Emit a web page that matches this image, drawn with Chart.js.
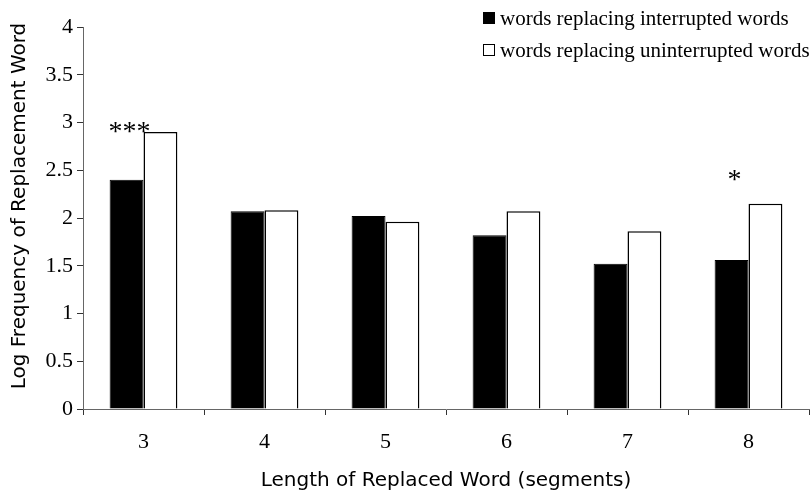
<!DOCTYPE html>
<html>
<head>
<meta charset="utf-8">
<script src="https://cdn.jsdelivr.net/npm/chart.js@4.4.1/dist/chart.umd.min.js"></script>
<style>
  html, body { margin: 0; padding: 0; background: #fff; }
  #wrap { width: 812px; height: 495px; position: relative; }
</style>
</head>
<body>
<div id="wrap"><canvas id="chart"></canvas></div>
<script>
const categories = ['3', '4', '5', '6', '7', '8'];
const interrupted = [2.40, 2.07, 2.02, 1.82, 1.52, 1.56];
const uninterrupted = [2.90, 2.08, 1.96, 2.07, 1.86, 2.15];
const seriesNames = ['words replacing interrupted words', 'words replacing uninterrupted words'];
const yTicks = [0, 0.5, 1, 1.5, 2, 2.5, 3, 3.5, 4];
const yTitle = 'Log Frequency of Replacement Word';
// significance marks: category, text, y value
const sigMarks = [
    { cat: '3', text: '***', y: 2.97 },
    { cat: '8', text: '*', y: 2.46 },
];

const serif = "'Liberation Serif', 'Times New Roman', serif";
const sans = "'DejaVu Sans', sans-serif";

const extras = {
    id: 'extras',
    afterDraw(chart) {
        const ctx = chart.ctx;
        const y = chart.scales.y;
        const meta = chart.getDatasetMeta(0);
        ctx.save();

        // asterisks above bars
        ctx.fillStyle = '#000';
        ctx.font = `28px ${serif}`;
        ctx.textAlign = 'center';
        ctx.textBaseline = 'middle';
        sigMarks.forEach((m) => {
            const i = categories.indexOf(m.cat);
            const bar = meta.data[i];
            ctx.fillText(m.text, bar.x + 3, y.getPixelForValue(m.y) + 7);
        });

        // y axis title (sits a bit above the plot centre in the original)
        ctx.save();
        ctx.translate(20, (chart.chartArea.top + chart.chartArea.bottom) / 2 - 12);
        ctx.rotate(-Math.PI / 2);
        ctx.font = `20px ${sans}`;
        ctx.textAlign = 'center';
        ctx.textBaseline = 'middle';
        ctx.fillText(yTitle, 0, 0);
        ctx.restore();

        // legend at top right
        ctx.font = `21px ${serif}`;
        ctx.textAlign = 'left';
        ctx.textBaseline = 'alphabetic';
        const fills = ['#000', '#fff'];
        seriesNames.forEach((name, i) => {
            const top = 12 + i * 32;
            ctx.fillStyle = fills[i];
            ctx.fillRect(483, top, 12, 12);
            ctx.strokeStyle = '#000';
            ctx.lineWidth = 1;
            ctx.strokeRect(483.5, top + 0.5, 11, 11);
            ctx.fillStyle = '#000';
            ctx.fillText(name, 500, top + 13);
        });
        ctx.restore();
    },
};

new Chart(document.getElementById('chart'), {
    type: 'bar',
    data: {
        labels: categories,
        datasets: [
            {
                label: seriesNames[0],
                data: interrupted,
                backgroundColor: '#000',
                borderColor: '#000',
                borderWidth: 1,
            },
            {
                label: seriesNames[1],
                data: uninterrupted,
                backgroundColor: '#fff',
                borderColor: '#000',
                borderWidth: 1.5,
            },
        ],
    },
    options: {
        responsive: true,
        maintainAspectRatio: false,
        animation: false,
        devicePixelRatio: 1,
        layout: { padding: { top: 27, right: 3, left: 0, bottom: 0 } },
        datasets: { bar: { categoryPercentage: 0.56, barPercentage: 1 } },
        plugins: {
            legend: { display: false },
            tooltip: { enabled: false },
        },
        scales: {
            x: {
                afterFit: (s) => { s.height = 86; },
                grid: {
                    display: true,
                    drawOnChartArea: false,
                    drawTicks: true,
                    tickLength: 6,
                    color: '#333',
                    offset: true,
                },
                border: { display: true, color: '#666', width: 1 },
                ticks: {
                    color: '#000',
                    font: { family: serif, size: 22 },
                    padding: 14,
                },
                title: {
                    display: true,
                    text: 'Length of Replaced Word (segments)',
                    color: '#000',
                    font: { family: sans, size: 20 },
                    padding: { top: 0, bottom: 2 },
                },
            },
            y: {
                min: 0,
                max: 4,
                afterFit: (s) => { s.width = 83; },
                afterBuildTicks: (s) => { s.ticks = yTicks.map((v) => ({ value: v })); },
                grid: {
                    display: true,
                    drawOnChartArea: false,
                    drawTicks: true,
                    tickLength: 6,
                    color: '#333',
                },
                border: { display: true, color: '#666', width: 1 },
                ticks: {
                    color: '#000',
                    font: { family: serif, size: 22 },
                    padding: 4,
                    callback: (v) => String(v),
                },
                title: { display: false },
            },
        },
    },
    plugins: [extras],
});
</script>
</body>
</html>
